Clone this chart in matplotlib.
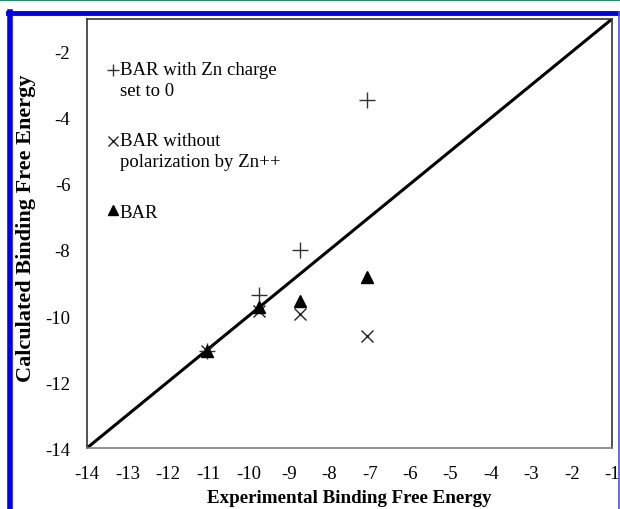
import matplotlib
matplotlib.use("Agg")
import matplotlib.pyplot as plt
from matplotlib.lines import Line2D
from matplotlib.legend_handler import HandlerLine2D

# Experimental vs calculated binding free energies
exp_energy = [-11.04, -9.74, -8.73, -7.07]
bar_zn0 = [-11.05, -9.35, -8.0, -3.45]
bar_nopol = [-11.05, -9.85, -9.95, -10.6]
bar_full = [-11.05, -9.73, -9.54, -8.83]

diag = [-14, -1]
x_ticks = list(range(-14, 0))
y_ticks = list(range(-14, 0, 2))

labels = ["BAR with Zn charge\nset to 0",
          "BAR without\npolarization by Zn++",
          "BAR"]


# legend handle: lifted to the first text line, own marker size
class LegendHandle(HandlerLine2D):
    def __init__(self, shift=0.0, ms=8, **kw):
        super().__init__(**kw)
        self.shift = shift
        self.ms = ms

    def create_artists(self, legend, orig_handle, xdescent, ydescent,
                       width, height, fontsize, trans):
        arts = super().create_artists(legend, orig_handle, xdescent,
                                      ydescent - self.shift, width, height,
                                      fontsize, trans)
        for a in arts:
            a.set_markersize(self.ms)
        return arts


plt.rcParams['font.family'] = ['Liberation Serif', 'DejaVu Serif']
plt.rcParams['axes.unicode_minus'] = False

fig = plt.figure(figsize=(6.2, 5.1), dpi=100)

# page frame (screenshot decoration)
fig.add_artist(Line2D([0, 1], [0.998, 0.998], color='#1f8f5f', lw=1.5, transform=fig.transFigure))
fig.add_artist(Line2D([0.0165, 0.0165], [-0.01, 0.974], color='#0000ee', lw=4, transform=fig.transFigure))
fig.add_artist(Line2D([0.0125, 1.0], [0.9725, 0.9725], color='#0000ee', lw=3.5, transform=fig.transFigure))
fig.add_artist(Line2D([0.998, 0.998], [0, 0.975], color='#5050dd', lw=1.2, transform=fig.transFigure))

ax = fig.add_axes([0.1403, 0.1196, 0.8468, 0.8412])

ax.plot(diag, diag, color='black', lw=2.2, zorder=2)
p1, = ax.plot(exp_energy, bar_zn0, linestyle='none', marker='+', ms=12, mew=1.0,
              color='#333333', label=labels[0], zorder=3)
p2, = ax.plot(exp_energy, bar_nopol, linestyle='none', marker='x', ms=8, mew=1.0,
              color='#222222', label=labels[1], zorder=3)
p3, = ax.plot(exp_energy, bar_full, linestyle='none', marker='^', ms=8,
              color='black', label=labels[2], zorder=3)

ax.set_xlim(-14, -1)
ax.set_ylim(-14, -1)
ax.set_xticks(x_ticks)
ax.set_yticks(y_ticks)
ax.tick_params(length=0, labelsize=13.5, pad=12)

for side in ['left', 'top', 'right']:
    ax.spines[side].set_color('#333333')
ax.spines['bottom'].set_color('#808080')
for s in ax.spines.values():
    s.set_linewidth(1.2)

ax.set_xlabel("Experimental Binding Free Energy", fontsize=13.7, fontweight='bold', labelpad=5)
ax.set_ylabel("Calculated Binding Free Energy", fontsize=16, fontweight='bold')
ax.yaxis.set_label_coords(-0.097, 0.515)

leg = ax.legend(loc='upper left', bbox_to_anchor=(0.039, 0.903), frameon=False,
                fontsize=13.5, handlelength=0.55, handletextpad=0.1,
                labelspacing=1.8, borderpad=0, borderaxespad=0,
                handler_map={p1: LegendHandle(14, 9), p2: LegendHandle(14, 7),
                             p3: LegendHandle(0, 7.5)})
for t in leg.get_texts():
    t.set_linespacing(1.3)

fig.savefig("out.png", dpi=100)
